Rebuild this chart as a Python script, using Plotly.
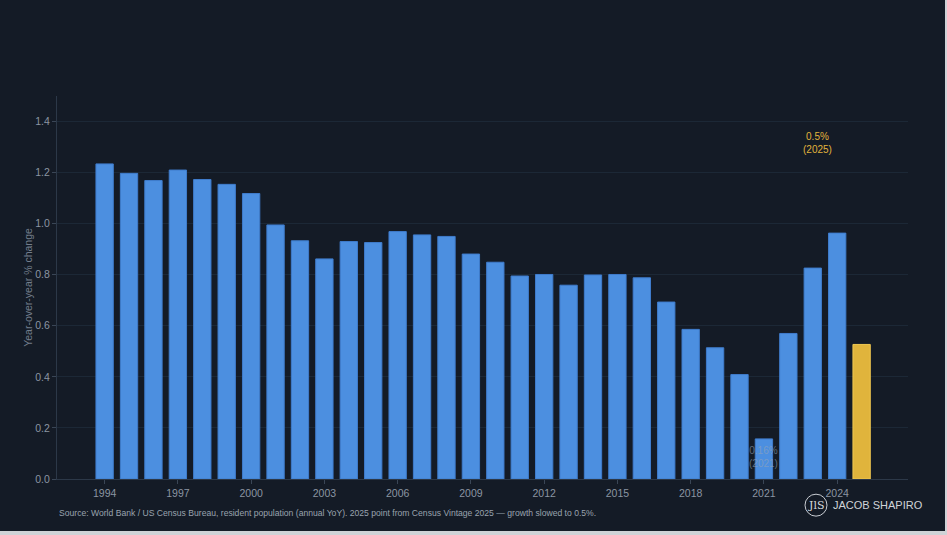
import plotly.graph_objects as go

years = list(range(1994, 2026))
growth = [1.234, 1.197, 1.169, 1.210, 1.173, 1.154, 1.118, 0.995, 0.933, 0.862,
          0.930, 0.926, 0.969, 0.956, 0.950, 0.881, 0.849, 0.795, 0.801, 0.759,
          0.799, 0.801, 0.788, 0.693, 0.586, 0.514, 0.409, 0.157, 0.570, 0.826,
          0.963, 0.527]
highlight_year = 2025
low_year = 2021

y_ticks = [0.0, 0.2, 0.4, 0.6, 0.8, 1.0, 1.2, 1.4]
x_ticks = [1994, 1997, 2000, 2003, 2006, 2009, 2012, 2015, 2018, 2021, 2024]

BG = "#141b26"
BLUE = "#4c8fe0"
GOLD = "#e0b43c"
GRID = "#1c2836"
TXT = "#8b95a2"

colors = [GOLD if y == highlight_year else BLUE for y in years]
edges = [("#f0c850" if y == highlight_year else "#3f7ccc") for y in years]

fig = go.Figure(go.Bar(
    x=years,
    y=growth,
    width=0.71,
    marker=dict(color=colors, line=dict(color=edges, width=1)),
    hoverinfo="x+y",
))

fig.update_layout(
    width=945, height=531,
    paper_bgcolor=BG, plot_bgcolor=BG,
    margin=dict(l=57, r=37, t=96, b=51.5),
    font=dict(family="Liberation Sans, Arial, sans-serif", color=TXT, size=11),
    showlegend=False,
)

fig.update_xaxes(
    range=[1992.05, 2026.9],
    tickvals=x_ticks,
    ticks="outside", ticklen=4, tickcolor="#3a4656",
    showgrid=False, zeroline=False,
    showline=True, linecolor="#2c3848", linewidth=1,
    tickfont=dict(size=10.5, color=TXT),
)
fig.update_yaxes(
    range=[0, 1.5],
    tickvals=y_ticks,
    tickformat=".1f",
    ticks="outside", ticklen=4, tickcolor="#3a4656",
    showgrid=True, gridcolor=GRID, gridwidth=1,
    zeroline=False,
    showline=True, linecolor="#2c3848", linewidth=1,
    title=dict(text="Year-over-year % change", font=dict(size=10.5, color="#737e8c"), standoff=0),
    tickfont=dict(size=10.5, color=TXT),
)

hi_val = growth[years.index(highlight_year)]
lo_val = growth[years.index(low_year)]

fig.add_annotation(
    x=2023.2, y=1.316, xref="x", yref="y",
    text="%.1f%%<br>(%d)" % (hi_val, highlight_year),
    showarrow=False, font=dict(size=10, color=GOLD),
)
fig.add_annotation(
    x=low_year, y=0.088, xref="x", yref="y",
    text="%.2f%%<br>(%d)" % (round(lo_val, 2), low_year),
    showarrow=False, font=dict(size=10, color="rgba(150,165,180,0.6)"),
)

# plot area: left 57, width 851, top 96, height 383.5 (pixels)
def px(x):
    return (x - 57) / 851.0


def py(y):
    return (479.5 - y) / 383.5


fig.add_annotation(
    x=0.0, y=py(514), xref="paper", yref="paper",
    text="Source: World Bank / US Census Bureau, resident population (annual YoY). "
         "2025 point from Census Vintage 2025 \u2014 growth slowed to 0.5%.",
    showarrow=False, xanchor="left", yanchor="middle",
    font=dict(size=8.6, color="#9aa3ae"),
)

# logo in the bottom-right corner
fig.add_shape(
    type="circle", xref="paper", yref="paper",
    x0=px(816 - 11), x1=px(816 + 11),
    y0=py(505.7 + 11), y1=py(505.7 - 11),
    line=dict(color="#c8ccd2", width=1),
)
fig.add_annotation(
    x=px(816), y=py(505.7), xref="paper", yref="paper",
    text="JlS", showarrow=False, xanchor="center", yanchor="middle",
    font=dict(size=11, color="#d6dade", family="DejaVu Serif, serif"),
)
fig.add_annotation(
    x=px(831), y=py(506), xref="paper", yref="paper",
    text="JACOB SHAPIRO", showarrow=False, xanchor="left", yanchor="middle",
    font=dict(size=11, color="#d0d4d8"),
)

fig.write_html(
    "out.html",
    config={"displayModeBar": False},
    post_script="document.body.style.margin='0';document.body.style.background='#cfd2d6';",
)
